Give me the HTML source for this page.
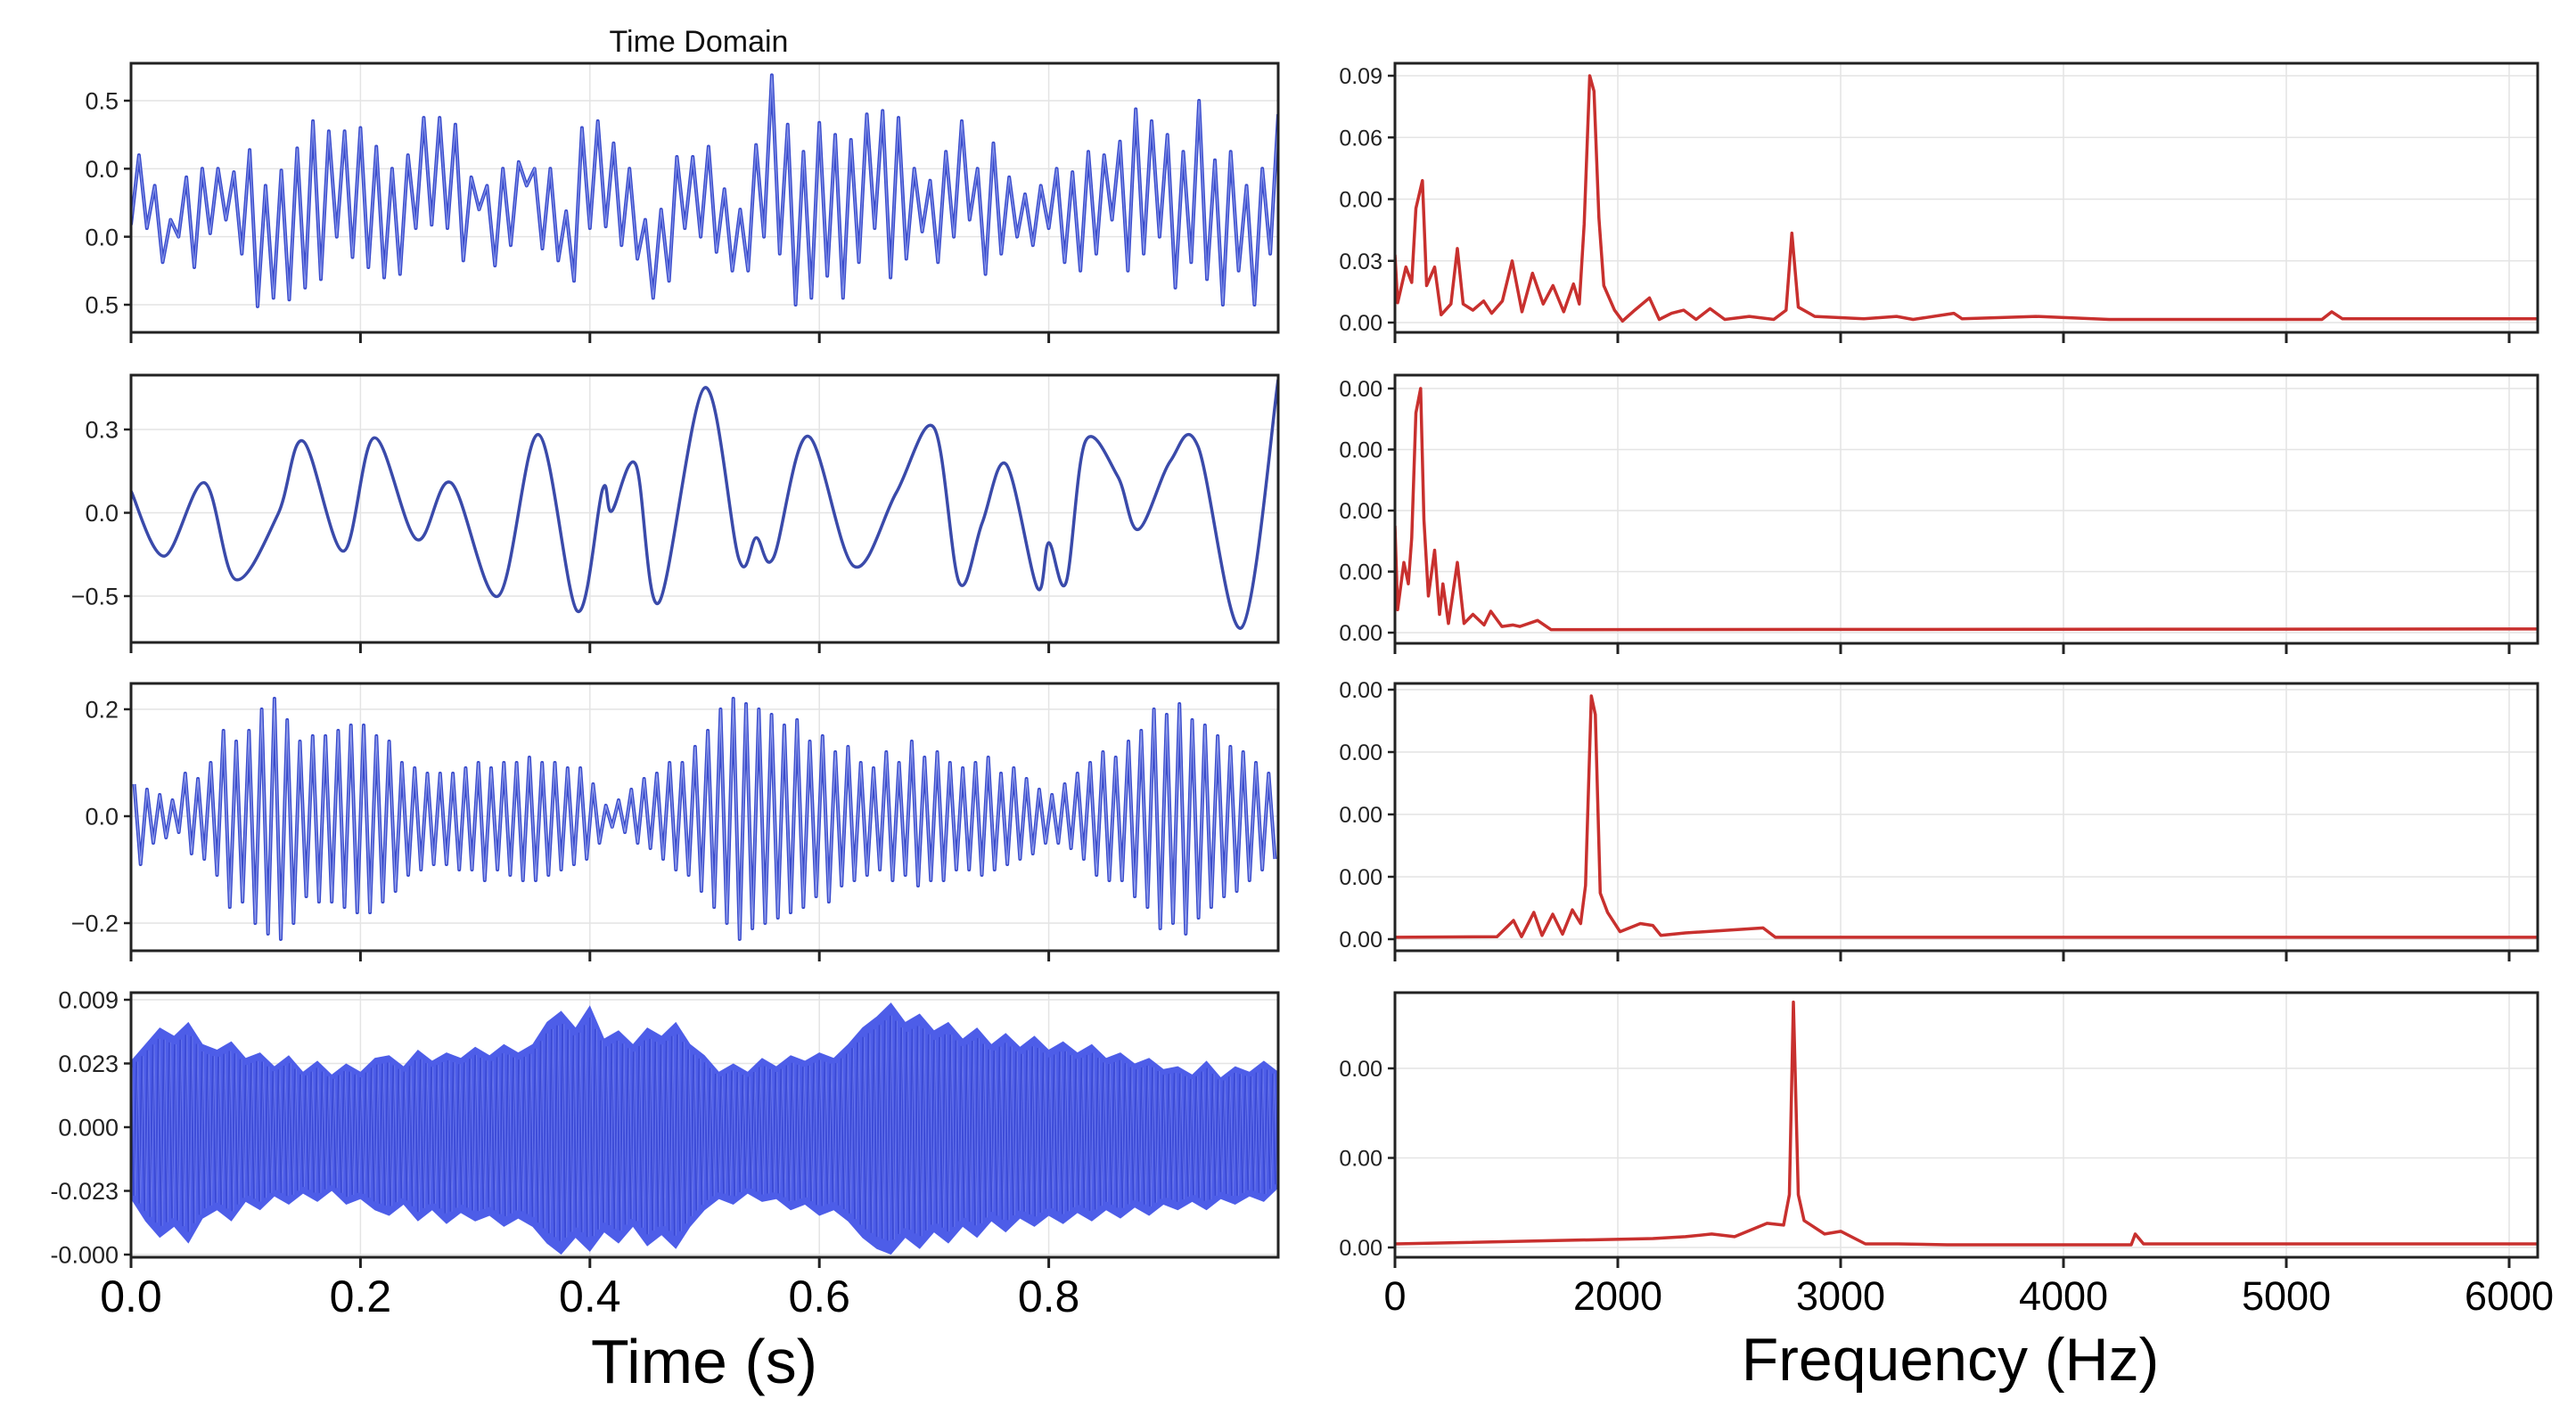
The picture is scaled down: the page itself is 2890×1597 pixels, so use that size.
<!DOCTYPE html>
<html><head><meta charset="utf-8"><title>Time and Frequency Domain</title>
<style>
html,body{margin:0;padding:0;background:#fff;}
svg{display:block;font-family:"Liberation Sans",Arial,sans-serif;}
</style></head>
<body>
<svg id="chart" width="2890" height="1597" viewBox="0 0 2890 1597" xmlns="http://www.w3.org/2000/svg">
<rect x="0" y="0" width="2890" height="1597" fill="#ffffff"/>
<text x="784" y="58" font-size="34" text-anchor="middle" fill="#111">Time Domain</text>
<text x="790" y="1552" font-size="70" text-anchor="middle" fill="#000">Time (s)</text>
<text x="2188" y="1549" font-size="68" text-anchor="middle" fill="#000">Frequency (Hz)</text>
<g id="layer"></g>
</svg>
<script>
// ---------- DATA ----------
const timeTicks = [0, 0.2, 0.4, 0.6, 0.8];
const timeTickLabels = ["0.0", "0.2", "0.4", "0.6", "0.8"];
const freqTicks = [0, 1000, 2000, 3000, 4000, 5000];
const freqTickLabels = ["0", "2000", "3000", "4000", "5000", "6000"];

const sig1 = [-0.13,0.28,-0.15,0.1,-0.35,-0.1,-0.2,0.15,-0.38,0.2,-0.18,0.2,-0.1,0.18,-0.3,0.31,-0.61,0.1,-0.56,0.19,
-0.57,0.32,-0.5,0.48,-0.45,0.42,-0.2,0.42,-0.32,0.44,-0.38,0.33,-0.44,0.2,-0.42,0.28,-0.15,0.5,-0.13,0.5,
-0.15,0.46,-0.34,0.15,-0.04,0.1,-0.37,0.2,-0.25,0.24,0.1,0.2,-0.27,0.2,-0.34,-0.05,-0.46,0.44,-0.15,0.48,
-0.14,0.35,-0.25,0.2,-0.33,-0.1,-0.56,-0.04,-0.46,0.27,-0.15,0.27,-0.2,0.33,-0.29,0.08,-0.4,-0.04,-0.4,0.34,
-0.2,0.75,-0.3,0.46,-0.6,0.3,-0.56,0.47,-0.43,0.4,-0.56,0.37,-0.35,0.52,-0.15,0.54,-0.44,0.5,-0.33,0.2,
-0.17,0.13,-0.35,0.3,-0.2,0.48,-0.1,0.2,-0.42,0.35,-0.3,0.15,-0.2,0.05,-0.25,0.1,-0.15,0.2,-0.35,0.18,
-0.4,0.3,-0.3,0.28,-0.1,0.36,-0.4,0.55,-0.3,0.48,-0.2,0.4,-0.5,0.3,-0.35,0.6,-0.45,0.25,-0.6,0.3,
-0.4,0.1,-0.6,0.2,-0.3,0.52];

const t2 = [0,0.029,0.064,0.091,0.128,0.15,0.185,0.212,0.249,0.279,0.32,0.355,0.389,0.411,0.419,0.44,0.46,0.5,0.53,0.545,0.56,0.59,0.63,0.667,0.70,0.722,0.742,0.763,0.79,0.80,0.815,0.832,0.86,0.878,0.906,0.93,0.968,1.0];
const v2 = [0.13,-0.26,0.18,-0.4,-0.01,0.43,-0.23,0.45,-0.16,0.18,-0.5,0.47,-0.59,0.14,0.01,0.29,-0.54,0.75,-0.28,-0.15,-0.27,0.46,-0.32,0.12,0.51,-0.42,-0.06,0.29,-0.45,-0.18,-0.42,0.43,0.22,-0.1,0.31,0.4,-0.69,0.8];

const upper3 = [0.06,0.05,0.04,0.03,0.08,0.07,0.1,0.16,0.14,0.16,0.2,0.22,0.18,0.14,0.15,0.15,0.16,0.17,0.17,0.15,
0.14,0.1,0.09,0.08,0.08,0.08,0.09,0.1,0.09,0.1,0.1,0.11,0.1,0.1,0.09,0.09,0.06,0.02,0.03,0.05,
0.07,0.08,0.1,0.1,0.13,0.16,0.2,0.22,0.21,0.2,0.19,0.17,0.18,0.14,0.15,0.12,0.13,0.1,0.09,0.12,
0.1,0.14,0.11,0.12,0.1,0.09,0.1,0.11,0.08,0.09,0.07,0.05,0.04,0.06,0.08,0.1,0.12,0.11,0.14,0.16,
0.2,0.19,0.21,0.18,0.17,0.15,0.13,0.12,0.1,0.08];
const lower3 = [-0.09,-0.05,-0.04,-0.03,-0.07,-0.08,-0.11,-0.17,-0.16,-0.2,-0.22,-0.23,-0.2,-0.15,-0.16,-0.16,-0.17,-0.18,-0.18,-0.16,
-0.14,-0.11,-0.1,-0.09,-0.09,-0.1,-0.1,-0.12,-0.1,-0.11,-0.12,-0.12,-0.11,-0.1,-0.09,-0.08,-0.05,-0.02,-0.03,-0.05,
-0.06,-0.08,-0.1,-0.11,-0.14,-0.17,-0.2,-0.23,-0.21,-0.2,-0.19,-0.18,-0.17,-0.15,-0.16,-0.13,-0.12,-0.11,-0.1,-0.12,
-0.11,-0.13,-0.12,-0.12,-0.1,-0.1,-0.11,-0.1,-0.09,-0.08,-0.07,-0.05,-0.05,-0.06,-0.08,-0.11,-0.12,-0.12,-0.15,-0.17,
-0.21,-0.2,-0.22,-0.19,-0.17,-0.15,-0.14,-0.12,-0.1,-0.08];

const upper4 = [0.024,0.03,0.036,0.033,0.038,0.03,0.028,0.031,0.025,0.027,0.022,0.026,0.02,0.024,0.019,0.023,0.02,0.025,0.026,0.022,
0.028,0.024,0.027,0.025,0.029,0.026,0.03,0.027,0.03,0.038,0.042,0.036,0.044,0.032,0.035,0.03,0.036,0.033,0.038,0.03,
0.026,0.02,0.023,0.02,0.025,0.022,0.026,0.024,0.027,0.025,0.03,0.036,0.04,0.045,0.038,0.041,0.035,0.038,0.032,0.036,
0.03,0.034,0.029,0.033,0.028,0.031,0.027,0.03,0.025,0.027,0.023,0.025,0.021,0.022,0.019,0.024,0.018,0.022,0.02,0.024,0.02];
const lower4 = [-0.026,-0.034,-0.04,-0.036,-0.042,-0.033,-0.03,-0.034,-0.027,-0.03,-0.025,-0.028,-0.024,-0.027,-0.023,-0.028,-0.026,-0.03,-0.032,-0.028,
-0.034,-0.03,-0.035,-0.031,-0.034,-0.032,-0.036,-0.033,-0.036,-0.042,-0.046,-0.04,-0.045,-0.038,-0.042,-0.036,-0.043,-0.039,-0.044,-0.036,
-0.03,-0.026,-0.028,-0.024,-0.027,-0.026,-0.03,-0.028,-0.032,-0.03,-0.034,-0.04,-0.044,-0.046,-0.04,-0.044,-0.038,-0.042,-0.036,-0.04,
-0.034,-0.038,-0.033,-0.036,-0.032,-0.035,-0.031,-0.034,-0.03,-0.033,-0.029,-0.032,-0.028,-0.03,-0.027,-0.03,-0.026,-0.028,-0.025,-0.027,-0.022];

const f1 = [0,12,49,75,94,123,142,178,207,251,280,306,350,398,434,482,526,570,617,665,709,757,801,827,849,874,893,915,937,985,1021,1076,1142,1186,1241,1296,1351,1414,1480,1590,1700,1755,1781,1810,1884,2104,2251,2325,2508,2545,2876,3205,4160,4204,4252,5130];
const m1 = [0.022,0.0064,0.018,0.013,0.037,0.046,0.012,0.018,0.0025,0.006,0.024,0.006,0.004,0.007,0.003,0.007,0.02,0.0035,0.016,0.006,0.012,0.0035,0.0125,0.006,0.032,0.08,0.075,0.034,0.012,0.004,0.0005,0.004,0.008,0.001,0.003,0.004,0.001,0.0045,0.001,0.002,0.001,0.004,0.029,0.005,0.002,0.0012,0.002,0.001,0.003,0.0012,0.002,0.001,0.001,0.0035,0.0012,0.0012];
const f2 = [0,12,40,60,75,94,115,130,150,178,200,215,240,280,310,350,400,430,480,530,560,640,700,5130];
const m2 = [0.035,0.0075,0.023,0.016,0.031,0.072,0.08,0.037,0.012,0.027,0.006,0.016,0.003,0.023,0.003,0.006,0.0025,0.007,0.002,0.0025,0.002,0.004,0.001,0.0012];
const f3 = [0,458,532,568,623,660,708,752,796,833,855,881,899,921,954,1010,1101,1157,1193,1303,1652,1707,5130];
const m3 = [0.0003,0.0004,0.003,0.0004,0.0043,0.0006,0.004,0.0008,0.0047,0.0025,0.0086,0.039,0.036,0.0074,0.0043,0.0012,0.0025,0.0022,0.0006,0.001,0.0018,0.0003,0.0003];
const f4 = [0,1157,1303,1421,1524,1670,1744,1770,1788,1810,1836,1928,2001,2111,2258,2478,3304,3322,3359,5130];
const m4 = [0.0004,0.001,0.0012,0.0015,0.0012,0.0027,0.0025,0.0059,0.0274,0.0059,0.003,0.0015,0.0018,0.0004,0.0004,0.0003,0.0003,0.0015,0.0004,0.0004];

// ---------- LAYOUT ----------
const NS = "http://www.w3.org/2000/svg";
const layer = document.getElementById('layer');
function mk(tag, attrs, parent) {
  const e = document.createElementNS(NS, tag);
  for (const k in attrs) e.setAttribute(k, attrs[k]);
  (parent || layer).appendChild(e);
  return e;
}
const LX0 = 147, LX1 = 1434, RX0 = 1565, RX1 = 2847;
const xTime = t => LX0 + (LX1 - LX0) * t / 1.0;
const xFreq = f => RX0 + 0.25 * f;
function yScale(v0, p0, v1, p1) { return v => p0 + (v - v0) * (p1 - p0) / (v1 - v0); }

const panels = [
  {id:'time-panel-1', side:'L', top:71, bottom:373, ticks:[0.6,0.2,-0.2,-0.6], labels:["0.5","0.0","0.0","0.5"], y:yScale(0.6,113,-0.6,342)},
  {id:'time-panel-2', side:'L', top:421, bottom:721, ticks:[0.5,0,-0.5], labels:["0.3","0.0","\u22120.5"], y:yScale(0.5,482,-0.5,669)},
  {id:'time-panel-3', side:'L', top:767, bottom:1067, ticks:[0.2,0,-0.2], labels:["0.2","0.0","\u22120.2"], y:yScale(0.2,796,-0.2,1036)},
  {id:'time-panel-4', side:'L', top:1114, bottom:1411, ticks:[0.046,0.023,0,-0.023,-0.046], labels:["0.009","0.023","0.000","-0.023","-0.000"], y:yScale(0.046,1122,-0.046,1408)},
  {id:'freq-panel-1', side:'R', top:71, bottom:373, ticks:[0.08,0.06,0.04,0.02,0], labels:["0.09","0.06","0.00","0.03","0.00"], y:yScale(0.08,85,0,362)},
  {id:'freq-panel-2', side:'R', top:421, bottom:722, ticks:[0.08,0.06,0.04,0.02,0], labels:["0.00","0.00","0.00","0.00","0.00"], y:yScale(0.08,436,0,710)},
  {id:'freq-panel-3', side:'R', top:767, bottom:1067, ticks:[0.04,0.03,0.02,0.01,0], labels:["0.00","0.00","0.00","0.00","0.00"], y:yScale(0.04,774,0,1054)},
  {id:'freq-panel-4', side:'R', top:1114, bottom:1411, ticks:[0.02,0.01,0], labels:["0.00","0.00","0.00"], y:yScale(0.02,1199,0,1400)}
];

const defs = mk('defs', {});
panels.forEach((p, i) => {
  const x0 = p.side === 'L' ? LX0 : RX0, x1 = p.side === 'L' ? LX1 : RX1;
  const cp = mk('clipPath', {id:'clip' + i}, defs);
  mk('rect', {x:x0, y:p.top, width:x1 - x0, height:p.bottom - p.top}, cp);
});

panels.forEach((p, i) => {
  const L = p.side === 'L';
  const x0 = L ? LX0 : RX0, x1 = L ? LX1 : RX1;
  const g = mk('g', {});
  
  
  p.g = g;
  const xt = L ? timeTicks : freqTicks;
  const xs = L ? xTime : xFreq;
  xt.forEach((v, k) => {
    const X = xs(v);
    if (k > 0) {
      const gl = mk('line', {x1:X, x2:X, y1:p.top, y2:p.bottom, stroke:'#e4e4e4', 'stroke-width':1.5}, g);
      
      
    }
    const tk = mk('line', {x1:X, x2:X, y1:p.bottom, y2:p.bottom + 12, stroke:'#222', 'stroke-width':3}, g);
    
    
    if (i === 3 || i === 7) {
      const tl = mk('text', {x:X, y:L ? 1472 : 1470, 'font-size':L ? 50 : 45, 'text-anchor':'middle', fill:'#000'}, g);
      tl.textContent = (L ? timeTickLabels : freqTickLabels)[k];
      
      
    }
  });
  p.ticks.forEach((v, k) => {
    const Y = p.y(v);
    const gl = mk('line', {x1:x0, x2:x1, y1:Y, y2:Y, stroke:'#e4e4e4', 'stroke-width':1.5}, g);
    
    
    const tk = mk('line', {x1:x0 - 8, x2:x0, y1:Y, y2:Y, stroke:'#222', 'stroke-width':2.5}, g);
    
    
    const fs = L ? 27 : 25;
    const tl = mk('text', {x:x0 - 14, y:Y + fs * 0.36, 'font-size':fs, 'text-anchor':'end', fill:'#222'}, g);
    tl.textContent = p.labels[k];
    
    
  });
});

function pathFrom(pts) { return pts.map((q, k) => (k ? 'L' : 'M') + q[0].toFixed(1) + ',' + q[1].toFixed(1)).join(''); }

(function(){
  const p = panels[0];
  const pts = sig1.map((v, k) => [xTime(k / (sig1.length - 1)), p.y(v)]);
  const e = mk('path', {d:pathFrom(pts), fill:'none', stroke:'#3a4ccc', 'stroke-width':4, 'stroke-linejoin':'round', 'clip-path':'url(#clip0)'}, p.g);
  
  
  const h = mk('path', {d:pathFrom(pts), fill:'none', stroke:'#9aa6f0', 'stroke-width':1.2, opacity:0.8, 'clip-path':'url(#clip0)'}, p.g);
  
  
})();

(function(){
  const p = panels[1];
  const P = t2.map((t, k) => [xTime(t), p.y(v2[k])]);
  let d = 'M' + P[0][0] + ',' + P[0][1];
  for (let k = 0; k < P.length - 1; k++) {
    const a = P[Math.max(0, k - 1)], b = P[k], c = P[k + 1], e2 = P[Math.min(P.length - 1, k + 2)];
    const c1 = [b[0] + (c[0] - a[0]) / 6, b[1] + (c[1] - a[1]) / 6];
    const c2 = [c[0] - (e2[0] - b[0]) / 6, c[1] - (e2[1] - b[1]) / 6];
    d += 'C' + c1.join(',') + ' ' + c2.join(',') + ' ' + c.join(',');
  }
  const e = mk('path', {d:d, fill:'none', stroke:'#3a4aaa', 'stroke-width':3.5, 'clip-path':'url(#clip1)'}, p.g);
  
  
})();

(function(){
  const p = panels[2];
  const n = upper3.length;
  const pts = [];
  for (let k = 0; k < n; k++) {
    pts.push([xTime((k + 0.25) / n), p.y(upper3[k])]);
    pts.push([xTime((k + 0.75) / n), p.y(lower3[k])]);
  }
  const e = mk('path', {d:pathFrom(pts), fill:'none', stroke:'#3a4ccc', 'stroke-width':4, 'stroke-linejoin':'round', 'clip-path':'url(#clip2)'}, p.g);
  
  
  const h = mk('path', {d:pathFrom(pts), fill:'none', stroke:'#a7b1f2', 'stroke-width':1.2, opacity:0.8, 'clip-path':'url(#clip2)'}, p.g);
  
  
})();

(function(){
  const p = panels[3];
  const nu = upper4.length, nl = lower4.length;
  const up = upper4.map((v, k) => [xTime(k / (nu - 1)), p.y(v)]);
  const lo = lower4.map((v, k) => [xTime(k / (nl - 1)), p.y(v)]).reverse();
  const area = mk('path', {d:pathFrom(up.concat(lo)) + 'Z', fill:'#4d5de8', 'clip-path':'url(#clip3)'}, p.g);
  
  
  const interp = (arr, t) => { const f = t * (arr.length - 1); const i = Math.min(arr.length - 2, Math.floor(f)); const r = f - i; return arr[i] * (1 - r) + arr[i + 1] * r; };
  const zz = [];
  const N = 420;
  for (let k = 0; k <= N; k++) {
    const t = k / N;
    zz.push([xTime(t), p.y(k % 2 ? interp(lower4, t) * 0.9 : interp(upper4, t) * 0.9)]);
  }
  const e = mk('path', {d:pathFrom(zz), fill:'none', stroke:'#2f3cc8', 'stroke-width':1.6, opacity:0.6, 'clip-path':'url(#clip3)'}, p.g);
  
  
  const zz2 = zz.map((q, k) => [q[0] + 1.5, q[1]]);
  const e2 = mk('path', {d:pathFrom(zz2), fill:'none', stroke:'#7f8cf0', 'stroke-width':1, opacity:0.5, 'clip-path':'url(#clip3)'}, p.g);
  
  
})();

[[f1, m1], [f2, m2], [f3, m3], [f4, m4]].forEach((fm, j) => {
  const p = panels[4 + j];
  const pts = fm[0].map((f, k) => [xFreq(f), p.y(fm[1][k])]);
  const e = mk('path', {d:pathFrom(pts), fill:'none', stroke:'#c8302e', 'stroke-width':3.5, 'stroke-linejoin':'round', 'clip-path':'url(#clip' + (4 + j) + ')'}, p.g);
  
  
});

panels.forEach(p => {
  const L = p.side === 'L';
  const x0 = L ? LX0 : RX0, x1 = L ? LX1 : RX1;
  const fr = mk('rect', {x:x0, y:p.top, width:x1 - x0, height:p.bottom - p.top, fill:'none', stroke:'#222', 'stroke-width':3}, p.g);
  
  
});
</script>
</body></html>
